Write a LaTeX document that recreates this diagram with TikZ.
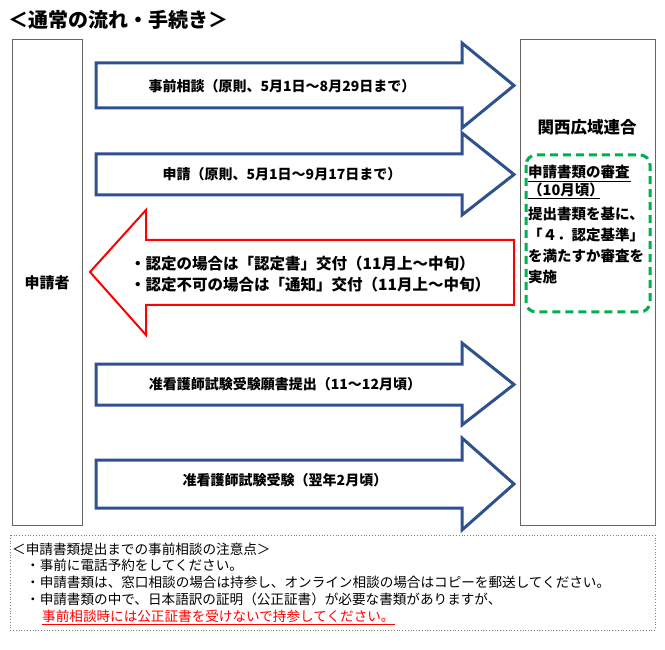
\documentclass[tikz,border=0pt]{standalone}
\usepackage{fontspec}
\newfontfamily\jp{Noto Sans CJK JP}
\usetikzlibrary{positioning,calc}
\tikzset{
  side/.style={draw=gray!80!black,line width=1pt},
  barrow/.style={draw={rgb,255:red,47;green,82;blue,143},line width=3pt,fill=white,line join=miter},
  rarrow/.style={draw=red,line width=2pt,fill=white},
  lbl/.style={font=\jp\bfseries\fontsize{14}{16}\selectfont,inner sep=0pt},
  note/.style={font=\jp\fontsize{13.6}{15}\selectfont,inner sep=0pt,anchor=west}
}
% draws a right pointing arrow: x0, x1 (head start), x2 (tip), body top/bottom, head top/bottom
\newcommand{\rightarr}[7]{\draw[barrow] (#1,#4) -- (#2,#4) -- (#2,#6) -- (#3,{(#4+#5)/2}) -- (#2,#7) -- (#2,#5) -- (#1,#5) -- cycle;}
\begin{document}
\begin{tikzpicture}[x=1pt,y=-1pt]
  \useasboundingbox (0,0) rectangle (665,650);
  \node[lbl,font=\jp\bfseries\fontsize{20}{22}\selectfont,anchor=west] (title) at (8,20) {＜通常の流れ・手続き＞};

  \draw[side] (12,40) rectangle (82,525);
  \node[lbl,font=\jp\bfseries\fontsize{15}{17}\selectfont] (appl) at (47,283) {申請者};
  \draw[side] (520,40) rectangle (655,525);
  \node[lbl,font=\jp\bfseries\fontsize{16.5}{18}\selectfont] (union) at (587,127) {関西広域連合};

  \rightarr{96}{462}{514}{63}{108}{43}{128}
  \node[lbl] (a1) at (282,86) {事前相談（原則、5月1日～8月29日まで）};
  \rightarr{96}{462}{514}{154}{195}{133}{215}
  \node[lbl] (a2) at (282,174) {申請（原則、5月1日～9月17日まで）};
  \draw[rarrow] (514,240) -- (146,240) -- (146,210) -- (90,272) -- (146,335) -- (146,305) -- (514,305) -- cycle;
  \node[lbl,anchor=west,font=\jp\bfseries\fontsize{15.5}{17}\selectfont] (r1) at (130,264) {・認定の場合は「認定書」交付（11月上～中旬）};
  \node[lbl,anchor=west,font=\jp\bfseries\fontsize{15.5}{17}\selectfont] (r2) at (130,285) {・認定不可の場合は「通知」交付（11月上～中旬）};
  \rightarr{96}{462}{514}{364}{405}{343}{425}
  \node[lbl] (a3) at (285,384) {准看護師試験受験願書提出（11～12月頃）};
  \rightarr{96}{462}{514}{460}{508}{438}{530}
  \node[lbl] (a4) at (285,480) {准看護師試験受験（翌年2月頃）};

  \draw[draw={rgb,255:red,0;green,176;blue,80},line width=3pt,dash pattern=on 8pt off 5pt,rounded corners=10pt] (526,155) rectangle (650,312);
  \node[lbl,anchor=west,font=\jp\bfseries\fontsize{14.5}{16}\selectfont] (g1) at (528,172) {申請書類の審査};
  \draw[line width=0.6pt] (528,181) -- (631,181);
  \node[lbl,anchor=west,font=\jp\bfseries\fontsize{14.5}{16}\selectfont] (g2) at (528,190) {（10月頃）};
  \draw[line width=0.6pt] (528,198) -- (600,198);
  \node[lbl,anchor=north west,align=left,font=\jp\bfseries\fontsize{14.5}{21}\selectfont] (g3) at (528,207) {提出書類を基に、\\「４．認定基準」\\を満たすか審査を\\実施};

  \draw[gray,line width=0.8pt,dotted] (10,535) rectangle (655,630);
  \node[note] (n0) at (12,549) {＜申請書類提出までの事前相談の注意点＞};
  \node[note] (n1) at (26,565) {・事前に電話予約をしてください。};
  \node[note] (n2) at (26,582) {・申請書類は、窓口相談の場合は持参し、オンライン相談の場合はコピーを郵送してください。};
  \node[note] (n3) at (26,599) {・申請書類の中で、日本語訳の証明（公正証書）が必要な書類がありますが、};
  \node[note,text=red] (n4) at (42,616) {事前相談時には公正証書を受けないで持参してください。};
  \draw[red,line width=0.6pt] ($(n4.south west)+(0,1.5)$) -- ($(n4.south east)+(0,1.5)$);
\end{tikzpicture}
\end{document}
